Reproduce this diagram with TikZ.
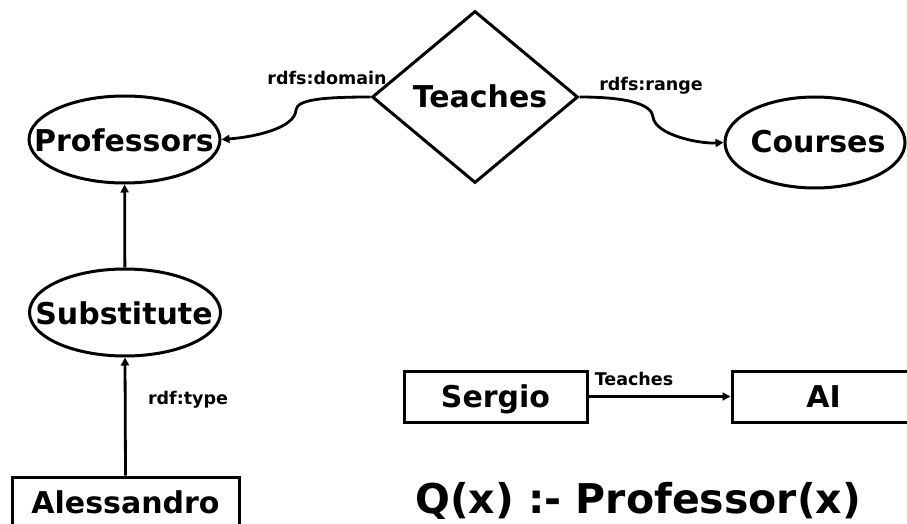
\documentclass[tikz,border=0pt]{standalone}
\usepackage{fontspec}
\setmainfont{DejaVu Sans}
\usetikzlibrary{shapes.geometric,arrows.meta}
% label set in a zero-width box so the shape keeps its given size
\newcommand{\fixedlabel}[1]{\makebox[0pt]{#1}}
\begin{document}
\begin{tikzpicture}[x=1pt,y=-1pt,
  every node/.style={font=\bfseries},
  big/.style={font=\bfseries\fontsize{30}{36}\selectfont, text height=21.9pt, text depth=0pt},
  small/.style={font=\bfseries\fontsize{17.5}{20}\selectfont, inner sep=0pt},
  shapeline/.style={draw=black, line width=3pt},
  classnode/.style={big, shapeline, ellipse, inner sep=0pt, text height=1pt},
  instnode/.style={big, shapeline, rectangle, inner sep=0pt},
  relnode/.style={big, shapeline, diamond, inner sep=0pt},
  arr/.style={line width=2.8pt, -{Triangle[length=8pt,width=8pt]}}]
\useasboundingbox (0,0) rectangle (907,524);
\clip (0,0) rectangle (907,524);
\fill[white] (0,0) rectangle (907,524);

% schema level
\node[relnode, minimum width=206pt, minimum height=172pt] (teach) at (475,97) {\hspace*{10pt}Teaches};
\node[classnode, minimum width=191pt, minimum height=87pt] (prof) at (124.5,139.5) {};
\node[classnode, minimum width=180pt, minimum height=91pt] (cour) at (815,142.5) {};
\node[classnode, minimum width=191pt, minimum height=87pt] (sub) at (125,312.5) {};
\node[big, inner sep=0pt, anchor=base] (proft) at (124,151) {\fixedlabel{Professors}};
\node[big, inner sep=0pt, anchor=base] (court) at (818,153) {\fixedlabel{Courses}};
\node[big, inner sep=0pt, anchor=base] (subt) at (124,324) {\fixedlabel{Substitute}};

% instance level
\node[instnode, minimum width=227pt, minimum height=51pt] (ales) at (125.5,502.5) {Alessandro};
\node[instnode, minimum width=183pt, minimum height=51pt] (serg) at (495.5,396.5) {Sergio};
\node[instnode, minimum width=183pt, minimum height=51pt] (ai) at (823.5,396.5) {AI};

% domain and range
\draw[arr] (teach.west) .. controls (320,97) and (297,100) .. (296,110)
  .. controls (295,128) and (255,137) .. (prof.east);
\draw[arr] (teach.east) .. controls (630,97) and (652,105) .. (653,117)
  .. controls (655,135) and (700,144) .. (cour.west);
\node[small, anchor=base] (ldom) at (327,85) {rdfs:domain};
\node[small, anchor=base] (lran) at (651,91) {rdfs:range};

% subclass and type links
\draw[arr] (sub) -- (prof);
\draw[arr] (ales.north) -- (sub.south);
\node[small, anchor=base] (ltype) at (188,404) {rdf:type};

% property assertion
\draw[arr] (serg) -- (ai);
\node[small, anchor=base] (lteach) at (634,385) {Teaches};

% query
\node[font=\bfseries\fontsize{41}{48}\selectfont, anchor=base west, inner sep=0pt] (query) at (415,513) {Q(x) :- Professor(x)};
\end{tikzpicture}
\end{document}
